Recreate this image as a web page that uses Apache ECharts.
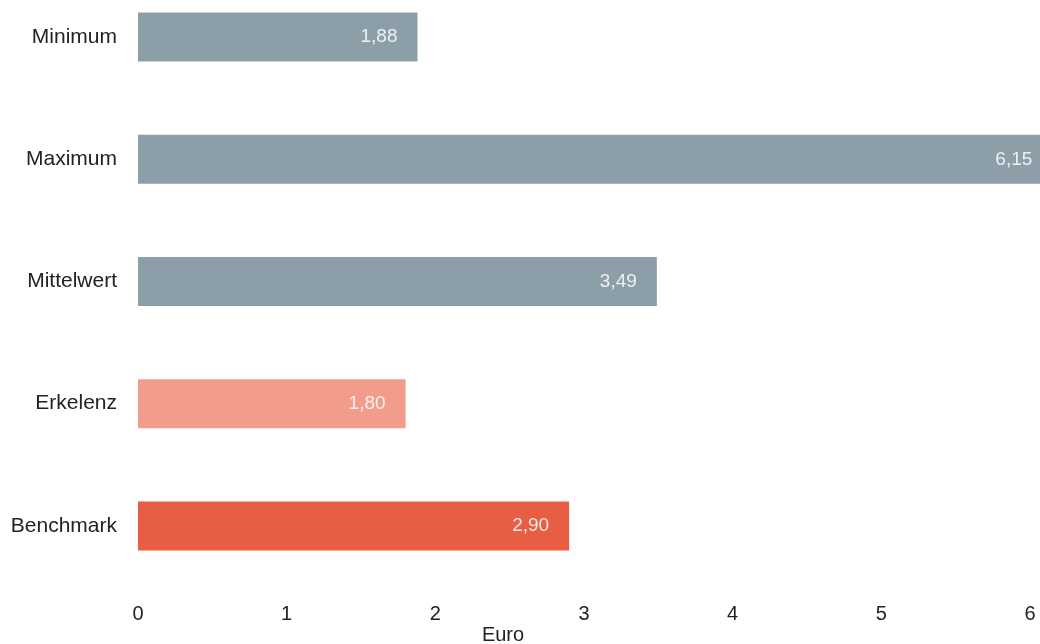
<!DOCTYPE html>
<html>
<head>
<meta charset="utf-8">
<script src="https://cdn.jsdelivr.net/npm/echarts@6/dist/echarts.min.js"></script>
<style>
  html, body { margin: 0; padding: 0; background: #fff; }
  #container { width: 1040px; height: 644px; }
</style>
</head>
<body>
<div id="container"></div>
<script>
const categories = ['Minimum', 'Maximum', 'Mittelwert', 'Erkelenz', 'Benchmark']
const values = [1.88, 6.15, 3.49, 1.80, 2.90]
const barColors = ['#8c9fa9', '#8c9fa9', '#8c9fa9', '#f29c8c', '#e85e45']
const xTicks = [0, 1, 2, 3, 4, 5, 6]

const myChart = echarts.init(document.getElementById('container'))

const font = 'Liberation Sans, Arial, sans-serif'

const option = {
    backgroundColor: '#fff',
    animation: false,
    title: {
        text: 'Euro',
        left: 503,
        top: 625,
        padding: 0,
        textAlign: 'center',
        textStyle: {
            fontFamily: font,
            fontSize: 20,
            fontWeight: 'normal',
            color: '#222'
        }
    },
    grid: {
        left: 138,
        right: 10,
        top: -24,
        height: 611,
        outerBoundsMode: 'none'
    },
    xAxis: {
        type: 'value',
        min: xTicks[0],
        max: xTicks[xTicks.length - 1],
        interval: 1,
        axisLine: { show: false },
        axisTick: { show: false },
        splitLine: { show: false },
        axisLabel: {
            margin: 17,
            fontFamily: font,
            fontSize: 20,
            color: '#222'
        }
    },
    yAxis: {
        type: 'category',
        inverse: true,
        data: categories,
        axisLine: { show: false },
        axisTick: { show: false },
        axisLabel: {
            margin: 21,
            fontFamily: font,
            fontSize: 21,
            color: '#222'
        }
    },
    series: [
        {
            type: 'bar',
            barWidth: 49,
            clip: false,
            data: values.map((v, i) => ({
                value: v,
                itemStyle: { color: barColors[i] }
            })),
            label: {
                show: true,
                position: 'insideRight',
                distance: 20,
                fontFamily: font,
                fontSize: 19,
                color: 'rgba(255,255,255,0.85)',
                formatter: p => p.value.toFixed(2).replace('.', ',')
            }
        }
    ]
}

myChart.setOption(option)
</script>
</body>
</html>
